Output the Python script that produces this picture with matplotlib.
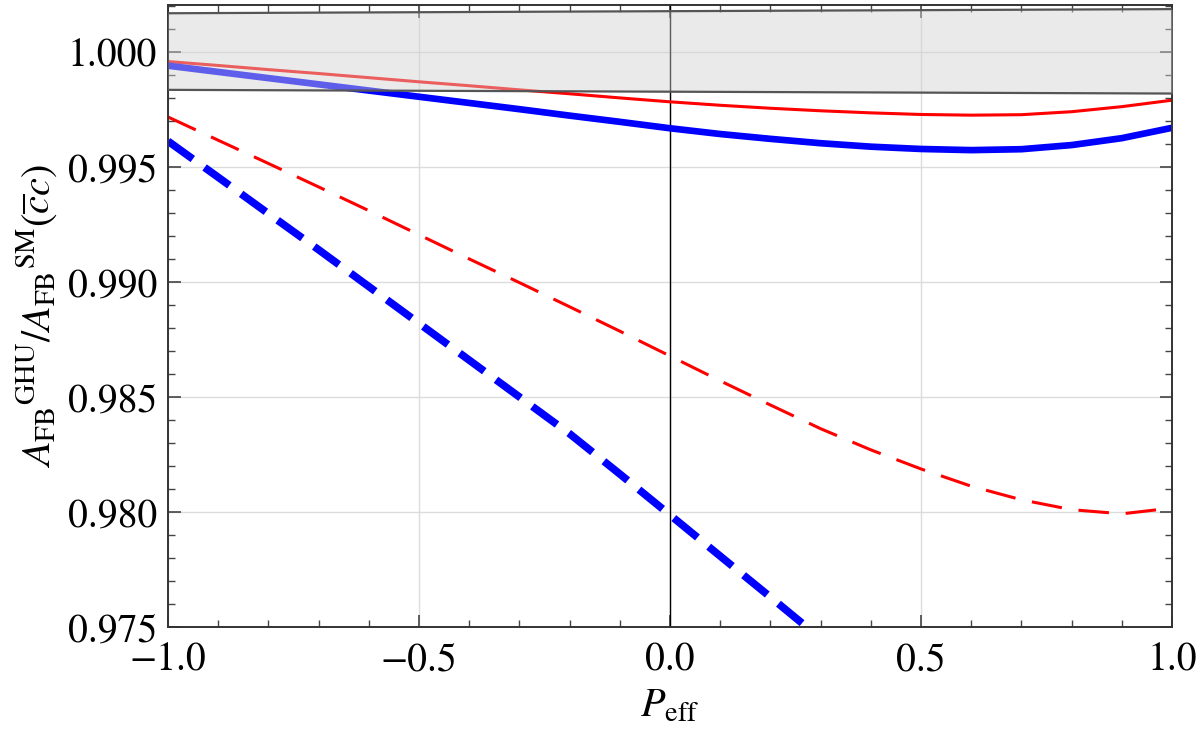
import matplotlib
matplotlib.use("Agg")
from matplotlib import pyplot as plt
from matplotlib.ticker import MultipleLocator, FuncFormatter

plt.rcParams['font.family'] = 'STIXGeneral'
plt.rcParams['mathtext.fontset'] = 'stix'

# P_eff grid
p = [-1.0, -0.9, -0.8, -0.7, -0.6, -0.5, -0.4, -0.3, -0.2, -0.1, 0.0,
     0.1, 0.2, 0.3, 0.4, 0.5, 0.6, 0.7, 0.8, 0.9, 1.0]

red_solid = [0.99958, 0.99941, 0.99923, 0.99906, 0.99888, 0.99870, 0.99853,
             0.99835, 0.99818, 0.99800, 0.99783, 0.99768, 0.99755, 0.99744,
             0.99735, 0.99728, 0.99725, 0.99727, 0.99740, 0.99762, 0.99790]
blue_solid = [0.99940, 0.99913, 0.99886, 0.99859, 0.99832, 0.99805, 0.99778,
              0.99751, 0.99723, 0.99696, 0.99668, 0.99643, 0.99622, 0.99603,
              0.99588, 0.99578, 0.99573, 0.99577, 0.99595, 0.99625, 0.99670]
red_dashed = [0.99717, 0.99616, 0.99515, 0.99413, 0.99310, 0.99205, 0.99100,
              0.98997, 0.98892, 0.98786, 0.98678, 0.98570, 0.98465, 0.98362,
              0.98270, 0.98187, 0.98112, 0.98053, 0.98010, 0.97992, 0.98017]
p_blue_dashed = [-1.0, -0.9, -0.8, -0.7, -0.6, -0.5, -0.4, -0.3, -0.2, -0.1,
                 0.0, 0.1, 0.2, 0.3]
blue_dashed = [0.99612, 0.99455, 0.99297, 0.99140, 0.98980, 0.98820, 0.98660,
               0.98500, 0.98340, 0.98165, 0.97987, 0.97808, 0.97630, 0.97450]

# experimental band
band_x = [-1.0, 1.0]
band_hi = [1.00168, 1.00186]
band_lo = [0.99835, 0.99819]

fig = plt.figure(figsize=(12, 7.42), dpi=100)
ax = fig.add_axes([0.14, 0.155, 0.8367, 0.8383])

ax.grid(True, which='major', color='#dcdcdc', lw=1.0)
ax.axvline(0, color='black', lw=1.0, zorder=1.8)

ax.plot(p, red_solid, color='red', lw=2.2, zorder=2)
ax.plot(p, blue_solid, color='blue', lw=4.8, zorder=2)
ax.plot(p, red_dashed, color='red', lw=2.2, dashes=(10, 5.5), zorder=2)
ax.plot(p_blue_dashed, blue_dashed, color='blue', lw=5.5, dashes=(4, 1.9), zorder=2)

ax.fill_between(band_x, band_lo, band_hi, color='#d2d2d2', alpha=0.45, lw=0, zorder=3)
ax.plot(band_x, band_hi, color='#555555', lw=1.6, zorder=4)
ax.plot(band_x, band_lo, color='#555555', lw=1.6, zorder=4)

ax.set_xlim(-1.0, 1.0)
ax.set_ylim(0.975, 1.00204)
ax.xaxis.set_major_locator(MultipleLocator(0.5))
ax.xaxis.set_minor_locator(MultipleLocator(0.1))
ax.yaxis.set_major_locator(MultipleLocator(0.005))
ax.yaxis.set_minor_locator(MultipleLocator(0.001))
ax.xaxis.set_major_formatter(FuncFormatter(lambda v, pos: f"{v:.1f}".replace('-', '\u2212')))
ax.yaxis.set_major_formatter(FuncFormatter(lambda v, pos: f"{v:.3f}"))

ax.tick_params(which='both', direction='in', top=True, right=True, color='#444444')
ax.tick_params(which='major', length=9, width=1.2, labelsize=28.5)
ax.tick_params(axis='y', which='major', pad=8)
ax.tick_params(axis='x', which='major', pad=11)
ax.tick_params(which='minor', length=5, width=1.0)
for s in ax.spines.values():
    s.set_color('#333333')
    s.set_linewidth(1.4)

ax.set_xlabel(r"$P_{\mathrm{eff}}$", fontsize=29, labelpad=6)
ax.set_ylabel(r"$A_{\mathrm{FB}}{}^{\mathrm{GHU}}/A_{\mathrm{FB}}{}^{\mathrm{SM}}(\overline{c}c)$",
              fontsize=29, labelpad=6)

plt.savefig("out.png", dpi=100)
